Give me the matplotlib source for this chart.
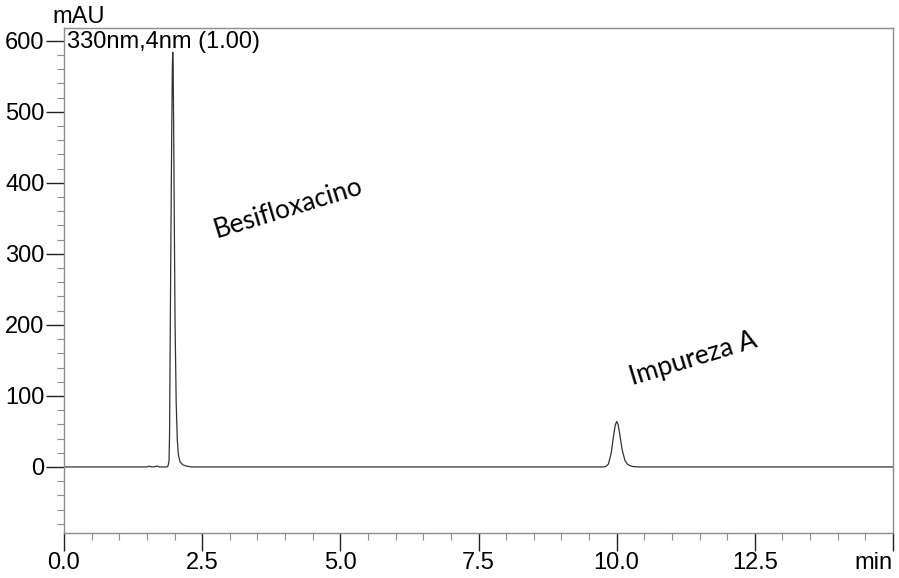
import matplotlib
matplotlib.use("Agg")
import matplotlib.pyplot as plt
from matplotlib.ticker import MultipleLocator

# chromatogram trace (time in min, signal in mAU)
time_min = [0.0, 1.50, 1.55, 1.57, 1.60, 1.68, 1.70, 1.72, 1.86, 1.88, 1.90,
            1.91, 1.92, 1.935, 1.95, 1.96, 1.967, 1.975, 1.985, 2.00, 2.01,
            2.03, 2.05, 2.07, 2.10, 2.15, 2.20, 2.30,
            9.75, 9.80, 9.85, 9.90, 9.95, 9.975, 10.00, 10.025, 10.05, 10.10,
            10.15, 10.20, 10.25, 10.30, 10.40, 15.0]
signal_mau = [0.0, 0.0, 1.2, 0.3, 0.0, 1.0, 1.2, 0.0, 0.0, 1.0, 8.0,
              45.0, 160.0, 330.0, 480.0, 560.0, 584.0, 565.0, 470.0, 300.0, 200.0,
              90.0, 38.0, 17.0, 7.0, 3.0, 1.5, 0.0,
              0.0, 0.5, 4.0, 19.0, 47.0, 59.0, 64.0, 60.0, 49.0, 24.0,
              9.0, 3.5, 1.5, 0.5, 0.0, 0.0]

x_ticks = [0.0, 2.5, 5.0, 7.5, 10.0, 12.5, 15.0]
x_labels = ["0.0", "2.5", "5.0", "7.5", "10.0", "12.5", "min"]
y_ticks = [0, 100, 200, 300, 400, 500, 600]

peak_names = ["Besifloxacino", "Impureza A"]
peak_label_pos = [(4.05, 364), (11.38, 152)]

fig = plt.figure(figsize=(8.99, 5.78), dpi=100)
ax = fig.add_axes([64 / 899, 45 / 578, 829 / 899, 505 / 578])

ax.plot(time_min, signal_mau, color="#333333", lw=0.9)

ax.set_xlim(0, 15)
ax.set_ylim(-93, 618)
ax.set_xticks(x_ticks)
ax.set_xticklabels(x_labels)
ax.set_yticks(y_ticks)
ax.xaxis.set_minor_locator(MultipleLocator(0.5))
ax.yaxis.set_minor_locator(MultipleLocator(20))

for s in ax.spines.values():
    s.set_color("#8c8c8c")
    s.set_linewidth(1.0)

ax.tick_params(which="major", direction="out", length=13, width=1.0,
               color="#222222", labelsize=17, pad=1)
ax.tick_params(which="minor", direction="out", length=5, width=0.8,
               color="#8c8c8c")
for lab in ax.get_xticklabels() + ax.get_yticklabels():
    lab.set_family("Liberation Sans")
ax.get_xticklabels()[-1].set_ha("right")

ax.text(0.004, 0.994, "330nm,4nm (1.00)", transform=ax.transAxes,
        ha="left", va="top", fontsize=17, family="Liberation Sans")
fig.text(52 / 899, 1 - 17 / 578, "mAU", ha="left", va="center",
         fontsize=17, family="Liberation Sans")

for name, (px, py) in zip(peak_names, peak_label_pos):
    ax.text(px, py, name, rotation=17, ha="center", va="center",
            fontsize=19, family="Lato")

fig.savefig("out.png", dpi=100)
